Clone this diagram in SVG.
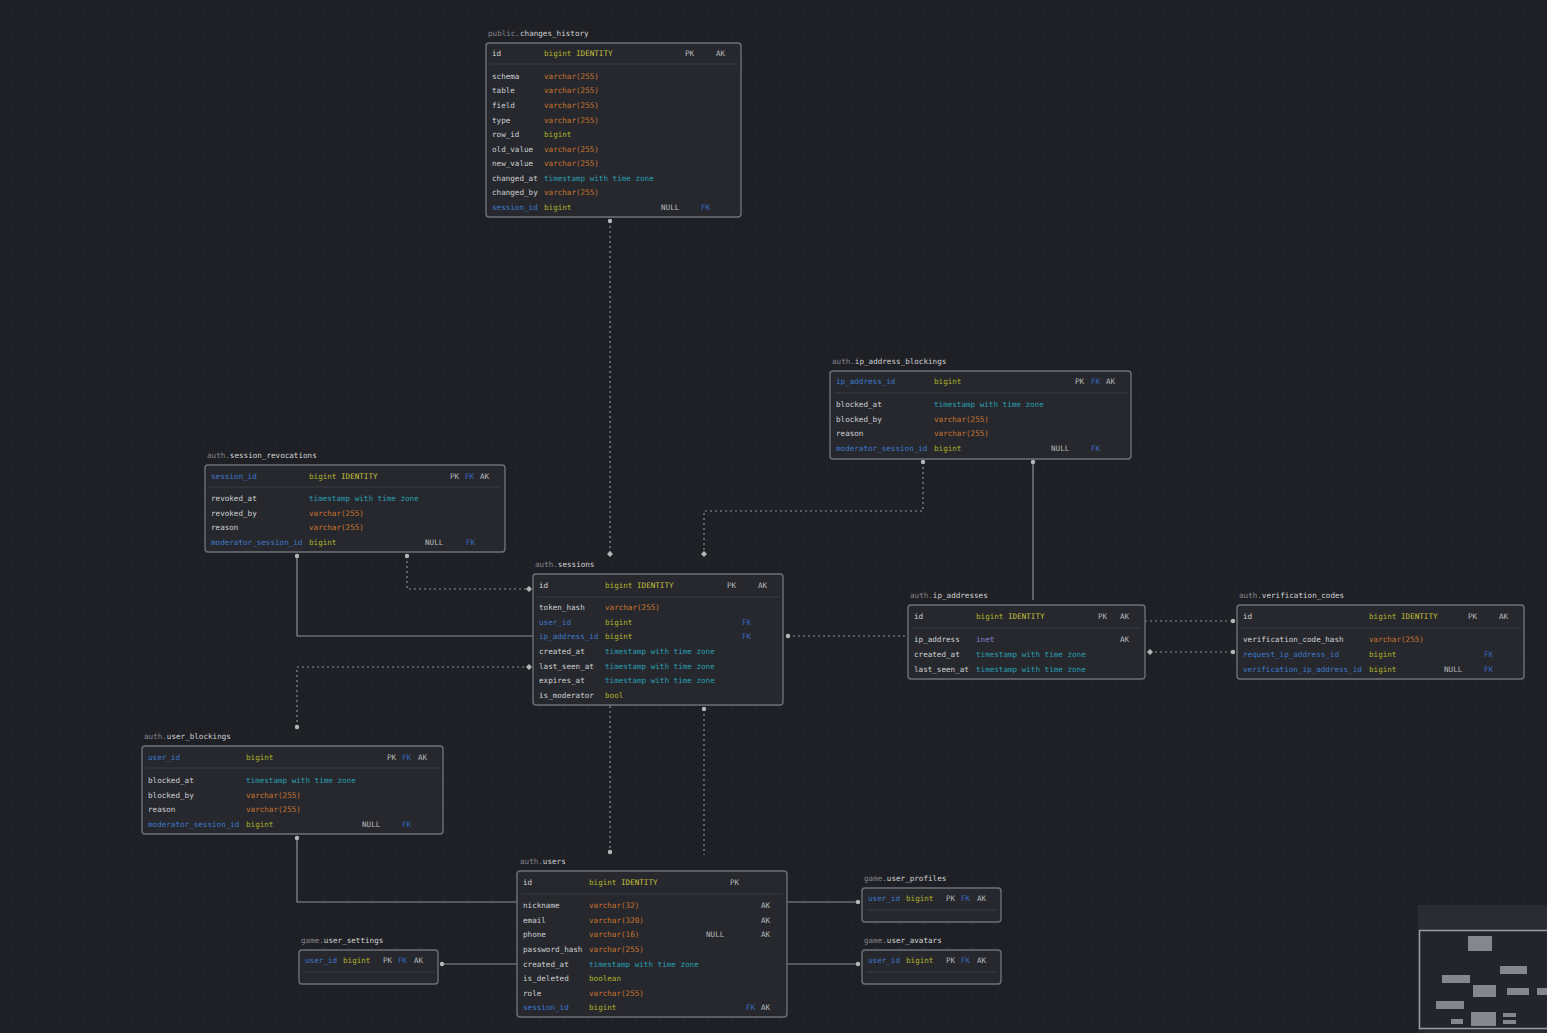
<svg xmlns="http://www.w3.org/2000/svg" width="1547" height="1033" viewBox="0 0 1547 1033">
<defs>
<pattern id="grid" width="24" height="24" patternUnits="userSpaceOnUse"><circle cx="12" cy="12" r="0.7" fill="#34363d"/></pattern>
<style>
text{font-family:"DejaVu Sans Mono","Liberation Mono",monospace;font-size:7.6px;fill:#cfd0d3}
.tb{fill:#26282e;stroke:#6d7078;stroke-width:1.4}
.sep{stroke:#3b3d44;stroke-width:1}
.pre{fill:#85878d}
.nm{fill:#cfd0d3}
.bl{fill:#3f78c9}
.bi{fill:#b0b22c}
.id{fill:#c9c23a}
.vc{fill:#c8742c}
.ts{fill:#2a9fb0}
.in{fill:#8a7fcf}
.k{fill:#b8b9bc}
.fk{fill:#3a68c0}
.c{fill:none;stroke:#8d9096;stroke-width:1.2}
.d{fill:none;stroke:#8d9096;stroke-width:1.2;stroke-dasharray:2 3}
.dot{fill:#b5b7bb}
.mm{fill:#85878c}
</style>
</defs>
<rect width="1547" height="1033" fill="#1f2025"/>
<rect width="1547" height="1033" fill="url(#grid)"/>

<g id="connectors">
<path class="d" d="M610 221 V554"/>
<path class="d" d="M923 462 V511 H704 V554"/>
<path class="c" d="M1033 462 V600"/>
<path class="c" d="M297 556 V636 H533"/>
<path class="d" d="M407 556 V589 H529"/>
<path class="d" d="M529 667 H297 V727"/>
<path class="d" d="M788 636 H908"/>
<path class="d" d="M1145 621 H1233"/>
<path class="d" d="M1150 652 H1233"/>
<path class="d" d="M610 706 V852"/>
<path class="d" d="M704 709 V855"/>
<path class="c" d="M297 838 V902 H517"/>
<path class="c" d="M442 964 H517"/>
<path class="c" d="M787 902 H858"/>
<path class="c" d="M787 964 H858"/>
<g>
<circle class="dot" cx="610" cy="221" r="2.2"/>
<path class="dot" d="M610 551 l3 3 -3 3 -3 -3z"/>
<circle class="dot" cx="923" cy="462" r="2.2"/>
<path class="dot" d="M704 551 l3 3 -3 3 -3 -3z"/>
<circle class="dot" cx="1033" cy="462" r="2.2"/>
<circle class="dot" cx="297" cy="556" r="2.2"/>
<circle class="dot" cx="407" cy="556" r="2.2"/>
<path class="dot" d="M529 586 l3 3 -3 3 -3 -3z"/>
<path class="dot" d="M529 664 l3 3 -3 3 -3 -3z"/>
<circle class="dot" cx="297" cy="727" r="2.2"/>
<circle class="dot" cx="788" cy="636" r="2.2"/>
<circle class="dot" cx="1233" cy="621" r="2.2"/>
<circle class="dot" cx="1233" cy="652" r="2.2"/>
<path class="dot" d="M1150 649 l3 3 -3 3 -3 -3z"/>
<circle class="dot" cx="610" cy="852" r="2.2"/>
<circle class="dot" cx="704" cy="709" r="2.2"/>
<circle class="dot" cx="297" cy="838" r="2.2"/>
<circle class="dot" cx="442" cy="964" r="2.2"/>
<circle class="dot" cx="858" cy="902" r="2.2"/>
<circle class="dot" cx="858" cy="964" r="2.2"/>
</g>
</g>

<g id="changes_history">
<text x="488" y="36"><tspan class="pre">public.</tspan>changes_history</text>
<rect class="tb" x="486" y="43" width="255" height="174" rx="3"/>
<line class="sep" x1="490" y1="64" x2="737" y2="64"/>
<text x="492" y="56">id</text><text x="544" y="56"><tspan class="bi">bigint</tspan> <tspan class="id">IDENTITY</tspan></text><text class="k" x="685" y="56">PK</text><text class="k" x="716" y="56">AK</text>
<text x="492" y="79">schema</text><text class="vc" x="544" y="79">varchar(255)</text>
<text x="492" y="93">table</text><text class="vc" x="544" y="93">varchar(255)</text>
<text x="492" y="108">field</text><text class="vc" x="544" y="108">varchar(255)</text>
<text x="492" y="123">type</text><text class="vc" x="544" y="123">varchar(255)</text>
<text x="492" y="137">row_id</text><text class="bi" x="544" y="137">bigint</text>
<text x="492" y="152">old_value</text><text class="vc" x="544" y="152">varchar(255)</text>
<text x="492" y="166">new_value</text><text class="vc" x="544" y="166">varchar(255)</text>
<text x="492" y="181">changed_at</text><text class="ts" x="544" y="181">timestamp with time zone</text>
<text x="492" y="195">changed_by</text><text class="vc" x="544" y="195">varchar(255)</text>
<text class="bl" x="492" y="210">session_id</text><text class="bi" x="544" y="210">bigint</text><text class="k" x="661" y="210">NULL</text><text class="fk" x="701" y="210">FK</text>
</g>

<g id="ip_address_blockings">
<text x="832" y="364"><tspan class="pre">auth.</tspan>ip_address_blockings</text>
<rect class="tb" x="830" y="371" width="301" height="88" rx="3"/>
<line class="sep" x1="834" y1="393" x2="1127" y2="393"/>
<text class="bl" x="836" y="384">ip_address_id</text><text class="bi" x="934" y="384">bigint</text><text class="k" x="1075" y="384">PK</text><text class="fk" x="1091" y="384">FK</text><text class="k" x="1106" y="384">AK</text>
<text x="836" y="407">blocked_at</text><text class="ts" x="934" y="407">timestamp with time zone</text>
<text x="836" y="422">blocked_by</text><text class="vc" x="934" y="422">varchar(255)</text>
<text x="836" y="436">reason</text><text class="vc" x="934" y="436">varchar(255)</text>
<text class="bl" x="836" y="451">moderator_session_id</text><text class="bi" x="934" y="451">bigint</text><text class="k" x="1051" y="451">NULL</text><text class="fk" x="1091" y="451">FK</text>
</g>

<g id="session_revocations">
<text x="207" y="458"><tspan class="pre">auth.</tspan>session_revocations</text>
<rect class="tb" x="205" y="465" width="300" height="87" rx="3"/>
<line class="sep" x1="209" y1="487" x2="501" y2="487"/>
<text class="bl" x="211" y="479">session_id</text><text x="309" y="479"><tspan class="bi">bigint</tspan> <tspan class="id">IDENTITY</tspan></text><text class="k" x="450" y="479">PK</text><text class="fk" x="465" y="479">FK</text><text class="k" x="480" y="479">AK</text>
<text x="211" y="501">revoked_at</text><text class="ts" x="309" y="501">timestamp with time zone</text>
<text x="211" y="516">revoked_by</text><text class="vc" x="309" y="516">varchar(255)</text>
<text x="211" y="530">reason</text><text class="vc" x="309" y="530">varchar(255)</text>
<text class="bl" x="211" y="545">moderator_session_id</text><text class="bi" x="309" y="545">bigint</text><text class="k" x="425" y="545">NULL</text><text class="fk" x="466" y="545">FK</text>
</g>

<g id="sessions">
<text x="535" y="567"><tspan class="pre">auth.</tspan>sessions</text>
<rect class="tb" x="533" y="574" width="250" height="131" rx="3"/>
<line class="sep" x1="537" y1="597" x2="779" y2="597"/>
<text x="539" y="588">id</text><text x="605" y="588"><tspan class="bi">bigint</tspan> <tspan class="id">IDENTITY</tspan></text><text class="k" x="727" y="588">PK</text><text class="k" x="758" y="588">AK</text>
<text x="539" y="610">token_hash</text><text class="vc" x="605" y="610">varchar(255)</text>
<text class="bl" x="539" y="625">user_id</text><text class="bi" x="605" y="625">bigint</text><text class="fk" x="742" y="625">FK</text>
<text class="bl" x="539" y="639">ip_address_id</text><text class="bi" x="605" y="639">bigint</text><text class="fk" x="742" y="639">FK</text>
<text x="539" y="654">created_at</text><text class="ts" x="605" y="654">timestamp with time zone</text>
<text x="539" y="669">last_seen_at</text><text class="ts" x="605" y="669">timestamp with time zone</text>
<text x="539" y="683">expires_at</text><text class="ts" x="605" y="683">timestamp with time zone</text>
<text x="539" y="698">is_moderator</text><text class="bi" x="605" y="698">bool</text>
</g>

<g id="ip_addresses">
<text x="910" y="598"><tspan class="pre">auth.</tspan>ip_addresses</text>
<rect class="tb" x="908" y="605" width="237" height="74" rx="3"/>
<line class="sep" x1="912" y1="628" x2="1141" y2="628"/>
<text x="914" y="619">id</text><text x="976" y="619"><tspan class="bi">bigint</tspan> <tspan class="id">IDENTITY</tspan></text><text class="k" x="1098" y="619">PK</text><text class="k" x="1120" y="619">AK</text>
<text x="914" y="642">ip_address</text><text class="in" x="976" y="642">inet</text><text class="k" x="1120" y="642">AK</text>
<text x="914" y="657">created_at</text><text class="ts" x="976" y="657">timestamp with time zone</text>
<text x="914" y="672">last_seen_at</text><text class="ts" x="976" y="672">timestamp with time zone</text>
</g>

<g id="verification_codes">
<text x="1239" y="598"><tspan class="pre">auth.</tspan>verification_codes</text>
<rect class="tb" x="1237" y="605" width="287" height="74" rx="3"/>
<line class="sep" x1="1241" y1="628" x2="1520" y2="628"/>
<text x="1243" y="619">id</text><text x="1369" y="619"><tspan class="bi">bigint</tspan> <tspan class="id">IDENTITY</tspan></text><text class="k" x="1468" y="619">PK</text><text class="k" x="1499" y="619">AK</text>
<text x="1243" y="642">verification_code_hash</text><text class="vc" x="1369" y="642">varchar(255)</text>
<text class="bl" x="1243" y="657">request_ip_address_id</text><text class="bi" x="1369" y="657">bigint</text><text class="fk" x="1484" y="657">FK</text>
<text class="bl" x="1243" y="672">verification_ip_address_id</text><text class="bi" x="1369" y="672">bigint</text><text class="k" x="1444" y="672">NULL</text><text class="fk" x="1484" y="672">FK</text>
</g>

<g id="user_blockings">
<text x="144" y="739"><tspan class="pre">auth.</tspan>user_blockings</text>
<rect class="tb" x="142" y="746" width="301" height="88" rx="3"/>
<line class="sep" x1="146" y1="768" x2="439" y2="768"/>
<text class="bl" x="148" y="760">user_id</text><text class="bi" x="246" y="760">bigint</text><text class="k" x="387" y="760">PK</text><text class="fk" x="402" y="760">FK</text><text class="k" x="418" y="760">AK</text>
<text x="148" y="783">blocked_at</text><text class="ts" x="246" y="783">timestamp with time zone</text>
<text x="148" y="798">blocked_by</text><text class="vc" x="246" y="798">varchar(255)</text>
<text x="148" y="812">reason</text><text class="vc" x="246" y="812">varchar(255)</text>
<text class="bl" x="148" y="827">moderator_session_id</text><text class="bi" x="246" y="827">bigint</text><text class="k" x="362" y="827">NULL</text><text class="fk" x="402" y="827">FK</text>
</g>

<g id="users">
<text x="520" y="864"><tspan class="pre">auth.</tspan>users</text>
<rect class="tb" x="517" y="871" width="270" height="146" rx="3"/>
<line class="sep" x1="521" y1="894" x2="783" y2="894"/>
<text x="523" y="885">id</text><text x="589" y="885"><tspan class="bi">bigint</tspan> <tspan class="id">IDENTITY</tspan></text><text class="k" x="730" y="885">PK</text>
<text x="523" y="908">nickname</text><text class="vc" x="589" y="908">varchar(32)</text><text class="k" x="761" y="908">AK</text>
<text x="523" y="923">email</text><text class="vc" x="589" y="923">varchar(320)</text><text class="k" x="761" y="923">AK</text>
<text x="523" y="937">phone</text><text class="vc" x="589" y="937">varchar(16)</text><text class="k" x="706" y="937">NULL</text><text class="k" x="761" y="937">AK</text>
<text x="523" y="952">password_hash</text><text class="vc" x="589" y="952">varchar(255)</text>
<text x="523" y="967">created_at</text><text class="ts" x="589" y="967">timestamp with time zone</text>
<text x="523" y="981">is_deleted</text><text class="bi" x="589" y="981">boolean</text>
<text x="523" y="996">role</text><text class="vc" x="589" y="996">varchar(255)</text>
<text class="bl" x="523" y="1010">session_id</text><text class="bi" x="589" y="1010">bigint</text><text class="fk" x="746" y="1010">FK</text><text class="k" x="761" y="1010">AK</text>
</g>

<g id="user_profiles">
<text x="864" y="881"><tspan class="pre">game.</tspan>user_profiles</text>
<rect class="tb" x="862" y="888" width="139" height="34" rx="3"/>
<line class="sep" x1="866" y1="910" x2="997" y2="910"/>
<text class="bl" x="868" y="901">user_id</text><text class="bi" x="906" y="901">bigint</text><text class="k" x="946" y="901">PK</text><text class="fk" x="961" y="901">FK</text><text class="k" x="977" y="901">AK</text>
</g>

<g id="user_avatars">
<text x="864" y="943"><tspan class="pre">game.</tspan>user_avatars</text>
<rect class="tb" x="862" y="950" width="139" height="34" rx="3"/>
<line class="sep" x1="866" y1="972" x2="997" y2="972"/>
<text class="bl" x="868" y="963">user_id</text><text class="bi" x="906" y="963">bigint</text><text class="k" x="946" y="963">PK</text><text class="fk" x="961" y="963">FK</text><text class="k" x="977" y="963">AK</text>
</g>

<g id="user_settings">
<text x="301" y="943"><tspan class="pre">game.</tspan>user_settings</text>
<rect class="tb" x="299" y="950" width="139" height="34" rx="3"/>
<line class="sep" x1="303" y1="972" x2="434" y2="972"/>
<text class="bl" x="305" y="963">user_id</text><text class="bi" x="343" y="963">bigint</text><text class="k" x="383" y="963">PK</text><text class="fk" x="398" y="963">FK</text><text class="k" x="414" y="963">AK</text>
</g>

<g id="minimap">
<rect x="1418" y="905" width="129" height="128" fill="#2a2c32"/>
<rect x="1419.5" y="930.5" width="130" height="98" fill="#23252a" stroke="#9a9ca2" stroke-width="1.5"/>
<rect class="mm" x="1468" y="936" width="24" height="15"/>
<rect class="mm" x="1500" y="966" width="27" height="8"/>
<rect class="mm" x="1442" y="975" width="28" height="8"/>
<rect class="mm" x="1473" y="985" width="23" height="12"/>
<rect class="mm" x="1507" y="988" width="22" height="7"/>
<rect class="mm" x="1537" y="988" width="10" height="7"/>
<rect class="mm" x="1436" y="1001" width="28" height="8"/>
<rect class="mm" x="1451" y="1019" width="12" height="5"/>
<rect class="mm" x="1471" y="1012" width="25" height="14"/>
<rect class="mm" x="1503" y="1013" width="13" height="4"/>
<rect class="mm" x="1503" y="1020" width="13" height="4"/>
</g>
</svg>
